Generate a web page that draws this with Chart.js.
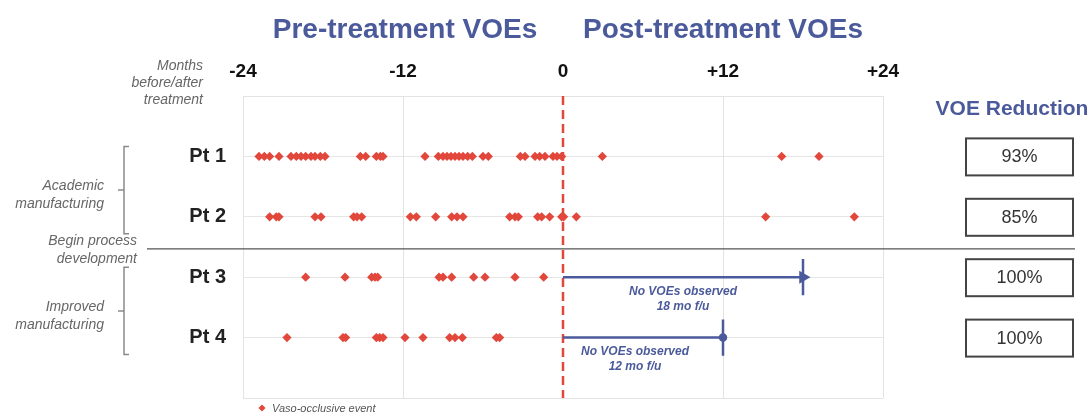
<!DOCTYPE html>
<html>
<head>
<meta charset="utf-8">
<script src="https://cdn.jsdelivr.net/npm/chart.js@4/dist/chart.umd.min.js"></script>
<style>
html, body { margin: 0; padding: 0; background: #fff; }
#wrap { width: 1092px; height: 417px; }
</style>
</head>
<body>
<div id="wrap"><canvas id="chart" width="1092" height="417"></canvas></div>
<script>
// months before/after treatment of each VOE
var patients = ['Pt 1', 'Pt 2', 'Pt 3', 'Pt 4'];
var pt1_voe = [-22.8, -22.4, -22.0, -21.3, -20.4, -20.0, -19.65, -19.3, -18.9, -18.6, -18.2, -17.85,
    -15.2, -14.8, -14.0, -13.7, -13.5, -10.35, -9.35, -9.0, -8.7, -8.4, -8.1, -7.8, -7.5, -7.15, -6.8,
    -6.0, -5.6, -3.2, -2.85, -2.1, -1.75, -1.35, -0.75, -0.45, -0.1, 2.95, 16.4, 19.2];
var pt2_voe = [-22.0, -21.5, -21.3, -18.6, -18.15, -15.7, -15.45, -15.1, -11.45, -11.0, -9.55, -8.35,
    -7.95, -7.5, -4.0, -3.6, -3.35, -1.9, -1.6, -1.0, -0.1, 0.05, 1.0, 15.2, 21.85];
var pt3_voe = [-19.3, -16.35, -14.35, -14.1, -13.9, -9.3, -9.0, -8.35, -6.7, -5.85, -3.6, -1.45];
var pt4_voe = [-20.7, -16.5, -16.3, -14.0, -13.75, -13.5, -11.85, -10.5, -8.5, -8.1, -7.55, -5.0, -4.75];
var followup = [null, null, 18, 12];   // months with no VOEs observed
var reduction = ['93%', '85%', '100%', '100%'];
var xTicks = [-24, -12, 0, 12, 24];
var groups = [['Academic', 'manufacturing'], ['Improved', 'manufacturing']];
var legendLabel = 'Vaso-occlusive event';

var RED = '#e2473b';
var BLUE = '#4b5a9b';
var FONT = '"Liberation Sans", Arial, Helvetica, sans-serif';

var voePoints = [];
[pt1_voe, pt2_voe, pt3_voe, pt4_voe].forEach(function (arr, i) {
    for (var k = 0; k < arr.length; k++) {
        voePoints.push({ x: arr[k], y: i + 1 });
    }
});

var datasets = [{
    type: 'scatter',
    label: legendLabel,
    data: voePoints,
    pointStyle: 'rectRot',
    pointRadius: 4.6,
    pointHoverRadius: 4.6,
    backgroundColor: RED,
    borderWidth: 0,
    order: 0
}, {
    type: 'line',
    label: 'treatment',
    data: [{ x: 0, y: 0 }, { x: 0, y: 5 }],
    borderColor: RED,
    borderWidth: 2.5,
    borderDash: [9, 5],
    pointRadius: 0,
    order: 3
}];

// follow-up bars for patients without post-treatment VOEs
for (var i = 0; i < followup.length; i++) {
    if (followup[i] == null) continue;
    var row = i + 1;
    datasets.push({
        type: 'line',
        label: 'fu' + row,
        data: [{ x: 0, y: row }, { x: followup[i], y: row }],
        borderColor: BLUE,
        backgroundColor: BLUE,
        borderWidth: 2.5,
        pointRadius: [0, row == 3 ? 5 : 3],
        pointStyle: row == 3 ? 'triangle' : 'circle',
        rotation: 90,
        order: 1
    });
    datasets.push({
        type: 'line',
        label: 'cap' + row,
        data: [{ x: followup[i], y: row - 0.3 }, { x: followup[i], y: row + 0.3 }],
        borderColor: BLUE,
        borderWidth: 2.5,
        pointRadius: 0,
        order: 1
    });
}

var annotations = {
    id: 'annotations',
    beforeDatasetsDraw: function (chart) {
        var ctx = chart.ctx, a = chart.chartArea;
        ctx.save();
        ctx.strokeStyle = '#e3e3e3';
        ctx.lineWidth = 1;
        ctx.beginPath();
        ctx.moveTo(a.left, a.bottom + 0.5);
        ctx.lineTo(a.right, a.bottom + 0.5);
        ctx.stroke();
        ctx.restore();
    },
    afterDraw: function (chart) {
        var ctx = chart.ctx;
        var xs = chart.scales.x, ys = chart.scales.y;
        ctx.save();

        // titles
        ctx.fillStyle = BLUE;
        ctx.font = 'bold 28px ' + FONT;
        ctx.textAlign = 'center';
        ctx.textBaseline = 'alphabetic';
        ctx.fillText('Pre-treatment VOEs', xs.getPixelForValue(-12) + 2, 38);
        ctx.fillText('Post-treatment VOEs', xs.getPixelForValue(12), 38);

        // axis caption
        ctx.fillStyle = '#666';
        ctx.font = 'italic 14px ' + FONT;
        ctx.textAlign = 'right';
        ctx.fillText('Months', 203, 70);
        ctx.fillText('before/after', 203, 87);
        ctx.fillText('treatment', 203, 104);

        // brackets + group labels
        ctx.strokeStyle = '#8a8a8a';
        ctx.lineWidth = 1.5;
        for (var g = 0; g < groups.length; g++) {
            var top = ys.getPixelForValue(g * 2 + 1) - 10;
            var bot = ys.getPixelForValue(g * 2 + 2) + 17;
            var mid = (top + bot) / 2;
            ctx.beginPath();
            ctx.moveTo(129, top); ctx.lineTo(124, top); ctx.lineTo(124, bot); ctx.lineTo(129, bot);
            ctx.moveTo(124, mid); ctx.lineTo(118, mid);
            ctx.stroke();
            ctx.fillStyle = '#666';
            ctx.fillText(groups[g][0], 104, mid);
            ctx.fillText(groups[g][1], 104, mid + 18);
        }

        // process development divider
        var sep = ys.getPixelForValue(2.53);
        ctx.strokeStyle = '#555';
        ctx.lineWidth = 1.3;
        ctx.beginPath();
        ctx.moveTo(147, sep);
        ctx.lineTo(1075, sep);
        ctx.stroke();
        ctx.fillText('Begin process', 137, sep - 4);
        ctx.fillText('development', 137, sep + 14);

        // follow-up notes
        ctx.fillStyle = BLUE;
        ctx.font = 'bold italic 12px ' + FONT;
        ctx.textAlign = 'center';
        ctx.textBaseline = 'middle';
        for (var i = 0; i < followup.length; i++) {
            if (followup[i] == null) continue;
            var cx = xs.getPixelForValue(followup[i] / 2) - (followup[i] < 15 ? 8 : 0);
            var ry = ys.getPixelForValue(i + 1);
            ctx.fillText('No VOEs observed', cx, ry + 14);
            ctx.fillText(followup[i] + ' mo f/u', cx, ry + 29);
        }

        // VOE reduction column
        ctx.font = 'bold 21px ' + FONT;
        ctx.textBaseline = 'alphabetic';
        ctx.fillText('VOE Reduction', 1012, 115);
        ctx.font = '18px ' + FONT;
        ctx.textBaseline = 'middle';
        ctx.strokeStyle = '#444';
        ctx.lineWidth = 2;
        for (var r = 0; r < reduction.length; r++) {
            var by = ys.getPixelForValue(r + 1);
            ctx.strokeRect(966, by - 18, 107, 37);
            ctx.fillStyle = '#333';
            ctx.fillText(reduction[r], 1019.5, by + 1);
        }

        // legend
        ctx.fillStyle = RED;
        ctx.beginPath();
        ctx.moveTo(262, 404.5); ctx.lineTo(265.5, 408); ctx.lineTo(262, 411.5); ctx.lineTo(258.5, 408);
        ctx.closePath();
        ctx.fill();
        ctx.fillStyle = '#555';
        ctx.font = 'italic 11px ' + FONT;
        ctx.textAlign = 'left';
        ctx.fillText(legendLabel, 272, 409);

        ctx.restore();
    }
};

new Chart(document.getElementById('chart').getContext('2d'), {
    data: { datasets: datasets },
    options: {
        responsive: false,
        animation: false,
        devicePixelRatio: 1,
        layout: { padding: { left: 0, right: 209, top: 0, bottom: 19 } },
        plugins: { legend: { display: false }, tooltip: { enabled: false } },
        scales: {
            x: {
                type: 'linear',
                position: 'top',
                min: -24,
                max: 24,
                afterBuildTicks: function (axis) {
                    axis.ticks = xTicks.map(function (v) { return { value: v }; });
                },
                afterFit: function (axis) {
                    axis.height = 96;
                    axis.paddingLeft = 0; axis.paddingRight = 0;
                },
                ticks: {
                    callback: function (v) { return v > 0 ? '+' + v : String(v); },
                    font: { family: FONT, size: 19, weight: 'bold' },
                    color: '#111',
                    padding: 13,
                    maxRotation: 0
                },
                grid: {
                    drawTicks: false,
                    color: function (c) { return c.tick && c.tick.value === 0 ? 'rgba(0,0,0,0)' : '#e3e3e3'; }
                },
                border: { display: true, color: '#e3e3e3' }
            },
            y: {
                type: 'linear',
                min: 0,
                max: 5,
                reverse: true,
                afterBuildTicks: function (axis) {
                    axis.ticks = [1, 2, 3, 4].map(function (v) { return { value: v }; });
                },
                afterFit: function (axis) {
                    axis.width = 243;
                    axis.paddingTop = 0; axis.paddingBottom = 0;
                },
                ticks: {
                    callback: function (v) { return patients[v - 1]; },
                    font: { family: FONT, size: 20, weight: 'bold' },
                    color: '#222',
                    padding: 17
                },
                grid: { drawTicks: false, color: '#e6e6e6' },
                border: { display: true, color: '#e3e3e3' }
            }
        }
    },
    plugins: [annotations]
});
</script>
</body>
</html>
